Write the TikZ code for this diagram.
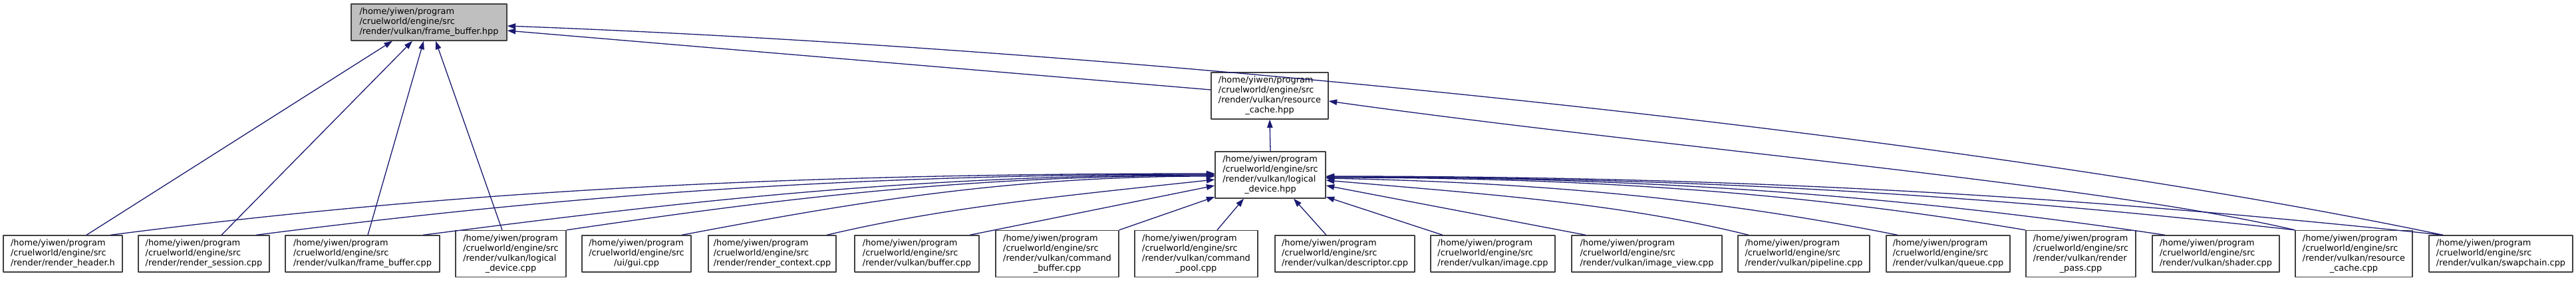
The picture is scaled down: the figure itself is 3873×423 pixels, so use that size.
\documentclass[tikz,border=0pt]{standalone}
\usepackage{fontspec}
\setmainfont{DejaVu Sans}
\usetikzlibrary{arrows.meta}
\definecolor{edgecol}{HTML}{191970}
\definecolor{boxline}{HTML}{404040}
\definecolor{rootfill}{HTML}{BFBFBF}
\newcommand{\lblthree}[3]{\begin{tabular}{@{}l@{}}#1\\#2\\\multicolumn{1}{@{}c@{}}{#3}\end{tabular}}
\newcommand{\lblfour}[4]{\begin{tabular}{@{}l@{}}#1\\#2\\#3\\\multicolumn{1}{@{}c@{}}{#4}\end{tabular}}
\newcommand{\hy}{/home/yiwen/program}
\newcommand{\cw}{/cruelworld/engine/src}
\begin{document}
\begin{tikzpicture}[x=1pt,y=-1pt,line join=round,
  box/.style={draw=boxline,line width=1.3pt,fill=white,inner sep=0pt,
    font=\fontsize{12.9}{15}\selectfont,minimum height=55pt},
  boxfour/.style={box,minimum height=70pt},
  edge/.style={draw=edgecol,line width=1.3pt,-{Triangle[length=12.5pt,width=8.5pt]}}]
\useasboundingbox (0,0) rectangle (3873,423);
% upper nodes
\node[box,fill=rootfill,minimum width=234pt] (fbh) at (645,33.5) {\lblthree{\hy}{\cw}{/render/vulkan/frame\_buffer.hpp}};
\node[boxfour,minimum width=176pt] (rch) at (1909,144) {\lblfour{\hy}{\cw}{/render/vulkan/resource}{\_cache.hpp}};
\node[boxfour,minimum width=166pt] (ldh) at (1910,263) {\lblfour{\hy}{\cw}{/render/vulkan/logical}{\_device.hpp}};
% bottom row
\node[box,minimum width=179pt] (n1) at (94.5,381.5) {\lblthree{\hy}{\cw}{/render/render\_header.h}};
\node[box,minimum width=197pt] (n2) at (306.5,381.5) {\lblthree{\hy}{\cw}{/render/render\_session.cpp}};
\node[box,minimum width=232pt] (n3) at (545,381.5) {\lblthree{\hy}{\cw}{/render/vulkan/frame\_buffer.cpp}};
\node[boxfour,minimum width=166pt] (n4) at (768,381.5) {\lblfour{\hy}{\cw}{/render/vulkan/logical}{\_device.cpp}};
\node[box,minimum width=164pt] (n5) at (957,381.5) {\lblthree{\hy}{\cw}{/ui/gui.cpp}};
\node[box,minimum width=192pt] (n6) at (1161,381.5) {\lblthree{\hy}{\cw}{/render/render\_context.cpp}};
\node[box,minimum width=187pt] (n7) at (1378.5,381.5) {\lblthree{\hy}{\cw}{/render/vulkan/buffer.cpp}};
\node[boxfour,minimum width=185pt] (n8) at (1589.5,381.5) {\lblfour{\hy}{\cw}{/render/vulkan/command}{\_buffer.cpp}};
\node[boxfour,minimum width=185pt] (n9) at (1798.5,381.5) {\lblfour{\hy}{\cw}{/render/vulkan/command}{\_pool.cpp}};
\node[box,minimum width=210pt] (n10) at (2022,381.5) {\lblthree{\hy}{\cw}{/render/vulkan/descriptor.cpp}};
\node[box,minimum width=187pt] (n11) at (2244.5,381.5) {\lblthree{\hy}{\cw}{/render/vulkan/image.cpp}};
\node[box,minimum width=226pt] (n12) at (2476,381.5) {\lblthree{\hy}{\cw}{/render/vulkan/image\_view.cpp}};
\node[box,minimum width=198pt] (n13) at (2712,381.5) {\lblthree{\hy}{\cw}{/render/vulkan/pipeline.cpp}};
\node[box,minimum width=186pt] (n14) at (2929,381.5) {\lblthree{\hy}{\cw}{/render/vulkan/queue.cpp}};
\node[boxfour,minimum width=165pt] (n15) at (3128.5,381.5) {\lblfour{\hy}{\cw}{/render/vulkan/render}{\_pass.cpp}};
\node[box,minimum width=191pt] (n16) at (3331.5,381.5) {\lblthree{\hy}{\cw}{/render/vulkan/shader.cpp}};
\node[boxfour,minimum width=176pt] (n17) at (3539,381.5) {\lblfour{\hy}{\cw}{/render/vulkan/resource}{\_cache.cpp}};
\node[box,minimum width=216pt] (n18) at (3760,381.5) {\lblthree{\hy}{\cw}{/render/vulkan/swapchain.cpp}};
% edges to frame_buffer.hpp
\draw[edge] ([xshift=35.5pt]n1.north) -- ([xshift=-55pt]fbh.south);
\draw[edge] ([xshift=26.5pt]n2.north) -- ([xshift=-25pt]fbh.south);
\draw[edge] ([xshift=8pt]n3.north) -- ([xshift=-8pt]fbh.south);
\draw[edge] ([xshift=-13pt]n4.north) -- ([xshift=10pt]fbh.south);
\draw[edge] ([yshift=9pt]rch.west) -- ([yshift=-12.5pt]fbh.east);
\draw[edge] ([xshift=-87pt]n18.north) .. controls (2950,202) and (1700,74) .. ([yshift=-5.5pt]fbh.east);
% edges to resource_cache.hpp
\draw[edge] (n17.north west) .. controls (3152,276) and (2497,222) .. ([yshift=-8pt]rch.east);
\draw[edge] (ldh.north) -- (rch.south);
% edges to logical_device.hpp
\draw[edge] ([xshift=71.5pt]n1.north) .. controls (664,289) and (1163,261) .. ([yshift=2pt]ldh.west);
\draw[edge] ([xshift=78.5pt]n2.north) .. controls (818,298) and (1250,262) .. ([yshift=1pt]ldh.west);
\draw[edge] ([xshift=91pt]n3.north) .. controls (993,308) and (1351,263) .. (ldh.west);
\draw[edge] (n4.north east) .. controls (1144,303) and (1437,264) .. ([yshift=-1pt]ldh.west);
\draw[edge] ([xshift=68pt]n5.north) .. controls (1266,308) and (1506,265) .. ([yshift=-2pt]ldh.west);
\draw[edge] ([xshift=82pt]n6.north) .. controls (1418,312) and (1593,295) .. ([yshift=-7pt]ldh.west);
\draw[edge] ([xshift=79.5pt]n7.north) -- ([yshift=-16pt]ldh.west);
\draw[edge] (n8.north east) -- ([yshift=-33pt]ldh.west);
\draw[edge] ([xshift=31.5pt]n9.north) -- ([xshift=-40pt]ldh.south);
\draw[edge] ([xshift=-28pt]n10.north) -- ([xshift=35pt]ldh.south);
\draw[edge] ([xshift=-75.5pt]n11.north) -- ([yshift=-33pt]ldh.east);
\draw[edge] ([xshift=-92pt]n12.north) -- ([yshift=-16pt]ldh.east);
\draw[edge] ([xshift=-83pt]n13.north) .. controls (2438,306) and (2247,293) .. ([yshift=-8pt]ldh.east);
\draw[edge] ([xshift=-76pt]n14.north) .. controls (2595,302) and (2337,275) .. ([yshift=-5pt]ldh.east);
\draw[edge] (n15.north west) .. controls (2730,293) and (2414,267) .. ([yshift=-4pt]ldh.east);
\draw[edge] ([xshift=-76.5pt]n16.north) .. controls (2876,297) and (2498,266) .. ([yshift=-3pt]ldh.east);
\draw[edge] (n17.north west) .. controls (3014,297) and (2577,266) .. ([yshift=-3pt]ldh.east);
\draw[edge] ([xshift=-87pt]n18.north) .. controls (3169,300) and (2665,265) .. ([yshift=-2pt]ldh.east);
\end{tikzpicture}
\end{document}
